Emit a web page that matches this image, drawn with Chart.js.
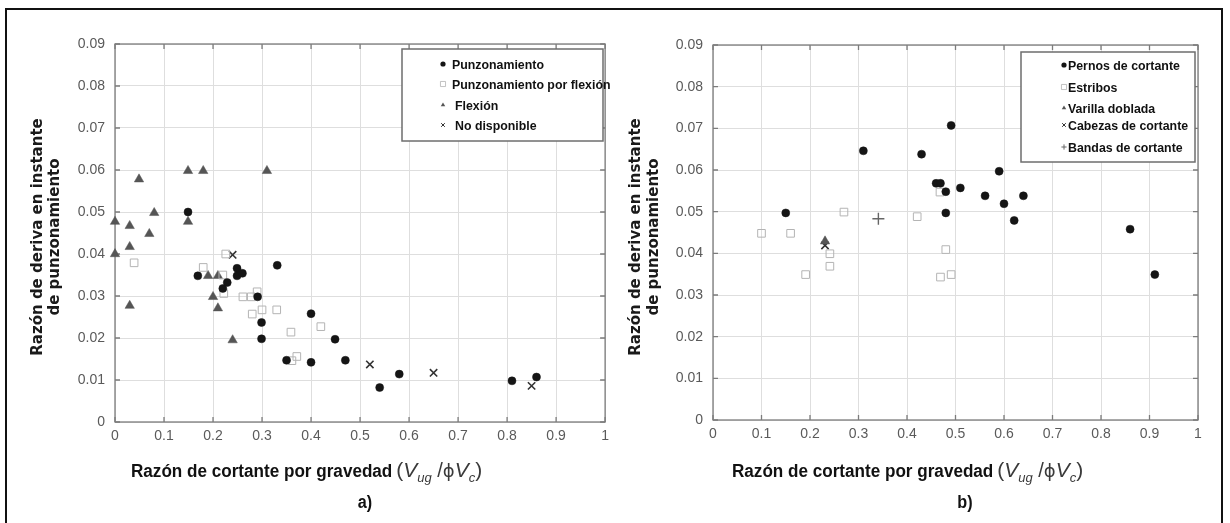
<!DOCTYPE html>
<html>
<head>
<meta charset="utf-8">
<script src="https://cdn.jsdelivr.net/npm/chart.js@4.4.0/dist/chart.umd.min.js"></script>
<style>
  html, body { margin: 0; padding: 0; background: #fff; }
  #wrap { position: relative; width: 1230px; height: 523px; overflow: hidden; background: #fff; }
  #frame { position: absolute; left: 5px; top: 8px; width: 1218px; height: 540px; border: 2px solid #111; box-sizing: border-box; }
  canvas { position: absolute; top: 0; }
  #cA { left: 0; }
  #cB { left: 615px; }
</style>
</head>
<body>
<div id="wrap">
  <div id="frame"></div>
  <canvas id="cA" width="615" height="523"></canvas>
  <canvas id="cB" width="615" height="523"></canvas>
</div>
<script>
// Axis ticks shared by both panels
const yTicks = [0, 0.01, 0.02, 0.03, 0.04, 0.05, 0.06, 0.07, 0.08, 0.09];
const yTickLabels = ['0', '0.01', '0.02', '0.03', '0.04', '0.05', '0.06', '0.07', '0.08', '0.09'];
const xTicks = [0, 0.1, 0.2, 0.3, 0.4, 0.5, 0.6, 0.7, 0.8, 0.9, 1];
const xTickLabels = ['0', '0.1', '0.2', '0.3', '0.4', '0.5', '0.6', '0.7', '0.8', '0.9', '1'];

// Panel a) — failure mode, [shear ratio, drift ratio]
const punzonamiento = [
  [0.149, 0.050], [0.169, 0.0348], [0.22, 0.0318], [0.229, 0.0332], [0.249, 0.0366],
  [0.249, 0.0348], [0.26, 0.0354], [0.291, 0.0298], [0.331, 0.0373], [0.299, 0.0237],
  [0.299, 0.0198], [0.35, 0.0147], [0.40, 0.0258], [0.40, 0.0142], [0.449, 0.0197],
  [0.47, 0.0147], [0.54, 0.0082], [0.58, 0.0114], [0.81, 0.0098], [0.86, 0.0107]
];
const punzonamientoFlexion = [
  [0.039, 0.0379], [0.226, 0.040], [0.18, 0.0368], [0.22, 0.035], [0.222, 0.0306],
  [0.261, 0.0298], [0.278, 0.0298], [0.29, 0.031], [0.28, 0.0257], [0.30, 0.0267],
  [0.33, 0.0267], [0.359, 0.0214], [0.42, 0.0227], [0.361, 0.0146], [0.371, 0.0156]
];
const flexion = [
  [0.049, 0.0578], [0.149, 0.0598], [0.18, 0.0598], [0.31, 0.0598], [0.08, 0.0498],
  [0, 0.0477], [0.03, 0.0467], [0.149, 0.0477], [0.07, 0.0448], [0.03, 0.0417],
  [0, 0.040], [0.19, 0.0348], [0.21, 0.0348], [0.20, 0.0298], [0.03, 0.0277],
  [0.21, 0.0271], [0.24, 0.0195]
];
const noDisponible = [[0.24, 0.0398], [0.52, 0.0137], [0.65, 0.0117], [0.85, 0.0086]];

// Panel b) — shear reinforcement type, [shear ratio, drift ratio]
const pernos = [
  [0.15, 0.0497], [0.31, 0.0646], [0.43, 0.0638], [0.491, 0.0707], [0.46, 0.0568],
  [0.469, 0.0568], [0.48, 0.0548], [0.48, 0.0497], [0.51, 0.0557], [0.59, 0.0597],
  [0.561, 0.0538], [0.60, 0.0519], [0.621, 0.0479], [0.64, 0.0538], [0.86, 0.0458],
  [0.911, 0.0349]
];
const estribos = [
  [0.10, 0.0448], [0.16, 0.0448], [0.27, 0.0499], [0.191, 0.0349], [0.241, 0.0399],
  [0.241, 0.0369], [0.421, 0.0488], [0.48, 0.0409], [0.469, 0.0343], [0.491, 0.0349],
  [0.468, 0.0547]
];
const varillaDoblada = [[0.231, 0.0429]];
const cabezas = [[0.231, 0.0419]];
const bandas = [[0.341, 0.0483]];

const toPoints = arr => arr.map(p => ({ x: p[0], y: p[1] }));

const STYLE = {
  circle:  { pointStyle: 'circle',   pointRadius: 4,   backgroundColor: '#151515', borderColor: '#151515', pointBorderWidth: 0.5 },
  square:  { pointStyle: 'rect',     pointRadius: 5.4, backgroundColor: 'rgba(255,255,255,0)', borderColor: '#b4b4b4', pointBorderWidth: 1 },
  tri:     { pointStyle: 'triangle', pointRadius: 5.4, backgroundColor: '#555', borderColor: '#555', pointBorderWidth: 0.5 },
  xmark:   { pointStyle: 'crossRot', pointRadius: 5.2, backgroundColor: '#333', borderColor: '#333', pointBorderWidth: 1.6 },
  plus:    { pointStyle: 'cross',    pointRadius: 6,   backgroundColor: '#666', borderColor: '#666', pointBorderWidth: 1.4 }
};

function makeDataset(label, arr, kind) {
  const s = STYLE[kind];
  return {
    label, data: toPoints(arr), clip: false,
    pointStyle: s.pointStyle, pointRadius: s.pointRadius, pointHoverRadius: s.pointRadius,
    backgroundColor: s.backgroundColor, borderColor: s.borderColor,
    pointBackgroundColor: s.backgroundColor, pointBorderColor: s.borderColor,
    pointBorderWidth: s.pointBorderWidth, showLine: false
  };
}

const SANS = '"Liberation Sans", Arial, sans-serif';

// Bold text drawn with a slight horizontal squeeze (condensed look)
function condensedText(ctx, txt, x, y, size, squeeze) {
  ctx.save();
  ctx.font = 'bold ' + size + 'px ' + SANS;
  ctx.translate(x, y);
  ctx.scale(squeeze, 1);
  ctx.fillText(txt, 0, 0);
  const w = ctx.measureText(txt).width * squeeze;
  ctx.restore();
  return w;
}

// Plot box with inward tick marks on every side
const framePlugin = {
  id: 'frameTicks',
  beforeDatasetsDraw(chart) {
    const { ctx, chartArea: a, scales } = chart;
    ctx.save();
    ctx.strokeStyle = '#7c7c7c';
    ctx.lineWidth = 1.3;
    ctx.strokeRect(a.left, a.top, a.right - a.left, a.bottom - a.top);
    ctx.beginPath();
    yTicks.forEach(v => {
      const py = scales.y.getPixelForValue(v);
      ctx.moveTo(a.left, py); ctx.lineTo(a.left + 5, py);
      ctx.moveTo(a.right, py); ctx.lineTo(a.right - 5, py);
    });
    xTicks.forEach(v => {
      const px = scales.x.getPixelForValue(v);
      ctx.moveTo(px, a.bottom); ctx.lineTo(px, a.bottom - 5);
      ctx.moveTo(px, a.top); ctx.lineTo(px, a.top + 5);
    });
    ctx.stroke();
    ctx.restore();
  }
};

// Legend box drawn inside the plot
const boxLegendPlugin = {
  id: 'boxLegend',
  afterDatasetsDraw(chart, args, opts) {
    const { ctx } = chart;
    const b = opts.box;
    ctx.save();
    ctx.fillStyle = '#fff';
    ctx.fillRect(b[0], b[1], b[2] - b[0], b[3] - b[1]);
    ctx.strokeStyle = '#6e6e6e';
    ctx.lineWidth = 1.5;
    ctx.strokeRect(b[0], b[1], b[2] - b[0], b[3] - b[1]);
    chart.data.datasets.forEach((ds, i) => {
      const y = opts.rows[i];
      ctx.fillStyle = ds.pointBackgroundColor;
      ctx.strokeStyle = ds.pointBorderColor;
      ctx.lineWidth = ds.pointStyle === 'rect' ? 0.8 : 1;
      Chart.helpers.drawPoint(ctx, {
        pointStyle: ds.pointStyle, rotation: 0,
        radius: ds.pointStyle === 'rect' ? 3.6 : 2.6,
        borderWidth: ds.pointStyle === 'rect' || ds.pointStyle === 'crossRot' || ds.pointStyle === 'cross' ? 1 : 0
      }, opts.markerX, y);
      ctx.fillStyle = '#111';
      ctx.textBaseline = 'middle';
      ctx.textAlign = 'left';
      condensedText(ctx, ds.label, opts.textX + (opts.indent[i] || 0), y + 1, 13, 0.95);
    });
    ctx.restore();
  }
};

// Axis titles and panel letter
const titlesPlugin = {
  id: 'panelTitles',
  afterDraw(chart, args, o) {
    const { ctx } = chart;
    const lines = ['Razón de deriva en instante', 'de punzonamiento'];
    lines.forEach((txt, i) => {
      ctx.save();
      ctx.fillStyle = '#1a1a1a';
      ctx.font = 'bold 15px "DejaVu Sans", Verdana, sans-serif';
      ctx.textAlign = 'center';
      ctx.textBaseline = 'middle';
      ctx.translate(o.yTitleX[i], o.yTitleY);
      ctx.rotate(-Math.PI / 2);
      ctx.fillText(txt, 0, 0);
      ctx.restore();
    });

    // horizontal title with subscripted symbol group
    ctx.save();
    ctx.textBaseline = 'alphabetic';
    ctx.textAlign = 'left';
    ctx.fillStyle = '#111';
    let x = o.xTitleX;
    const y = o.xTitleY;
    x += condensedText(ctx, 'Razón de cortante por gravedad', x, y, 18, 0.95) + 4;
    const put = (txt, font, color, dy) => {
      ctx.font = font;
      ctx.fillStyle = color;
      ctx.fillText(txt, x, y + (dy || 0));
      x += ctx.measureText(txt).width;
    };
    const g = '#3a3a3a';
    put('(', '21px ' + SANS, g);
    put('V', 'italic 21px ' + SANS, g);
    put('ug', 'italic 13px ' + SANS, g, 5);
    put(' /', '20px ' + SANS, g);
    put('\u03d5', '18px "DejaVu Sans", sans-serif', g);
    put('V', 'italic 21px ' + SANS, g);
    put('c', 'italic 13px ' + SANS, g, 5);
    put(')', '21px ' + SANS, g);

    ctx.fillStyle = '#111';
    ctx.textBaseline = 'middle';
    ctx.textAlign = 'left';
    ctx.font = 'bold 18px ' + SANS;
    const w = ctx.measureText(o.panel).width * 0.9;
    condensedText(ctx, o.panel, o.panelX - w / 2, 503, 18, 0.9);
    ctx.restore();
  }
};

function buildPanel(canvasId, datasets, cfg) {
  const tickFont = { family: SANS, size: 14 };
  return new Chart(document.getElementById(canvasId), {
    type: 'scatter',
    data: { datasets },
    plugins: [framePlugin, boxLegendPlugin, titlesPlugin],
    options: {
      responsive: false,
      animation: false,
      devicePixelRatio: 1,
      layout: { padding: { left: 0, top: cfg.top, right: cfg.right, bottom: 0 } },
      scales: {
        x: {
          type: 'linear', min: 0, max: 1,
          afterBuildTicks: s => { s.ticks = xTicks.map(v => ({ value: v })); },
          afterFit: s => { s.height = cfg.xAxisH; },
          ticks: {
            font: tickFont, color: '#5a5a5a', padding: 6, maxRotation: 0, autoSkip: false,
            callback: v => xTickLabels[xTicks.findIndex(t => Math.abs(t - v) < 1e-9)]
          },
          grid: { color: '#dedede', lineWidth: 1, drawTicks: false },
          border: { display: false }
        },
        y: {
          type: 'linear', min: 0, max: 0.09,
          afterBuildTicks: s => { s.ticks = yTicks.map(v => ({ value: v })); },
          afterFit: s => { s.width = cfg.yAxisW; },
          ticks: {
            font: tickFont, color: '#5a5a5a', padding: 10, autoSkip: false,
            callback: v => yTickLabels[yTicks.findIndex(t => Math.abs(t - v) < 1e-9)]
          },
          grid: { color: '#dedede', lineWidth: 1, drawTicks: false },
          border: { display: false }
        }
      },
      plugins: {
        legend: { display: false },
        tooltip: { enabled: false },
        boxLegend: cfg.legend,
        panelTitles: cfg.titles
      }
    }
  });
}

buildPanel('cA', [
  makeDataset('Punzonamiento', punzonamiento, 'circle'),
  makeDataset('Punzonamiento por flexión', punzonamientoFlexion, 'square'),
  makeDataset('Flexión', flexion, 'tri'),
  makeDataset('No disponible', noDisponible, 'xmark')
], {
  top: 44, right: 8, yAxisW: 115, xAxisH: 101,
  legend: { box: [402, 49, 603, 141], rows: [64, 84, 105, 125], markerX: 443, textX: 452, indent: [0, 0, 3, 3] },
  titles: { yTitleX: [38, 55], yTitleY: 237, xTitleX: 131, xTitleY: 477, panel: 'a)', panelX: 365 }
});

buildPanel('cB', [
  makeDataset('Pernos de cortante', pernos, 'circle'),
  makeDataset('Estribos', estribos, 'square'),
  makeDataset('Varilla doblada', varillaDoblada, 'tri'),
  makeDataset('Cabezas de cortante', cabezas, 'xmark'),
  makeDataset('Bandas de cortante', bandas, 'plus')
], {
  top: 45, right: 32, yAxisW: 98, xAxisH: 103,
  legend: { box: [406, 52, 580, 162], rows: [65, 87, 108, 125, 147], markerX: 449, textX: 453, indent: [0, 0, 0, 0, 0] },
  titles: { yTitleX: [21, 39], yTitleY: 237, xTitleX: 117, xTitleY: 477, panel: 'b)', panelX: 350 }
});
</script>
</body>
</html>
